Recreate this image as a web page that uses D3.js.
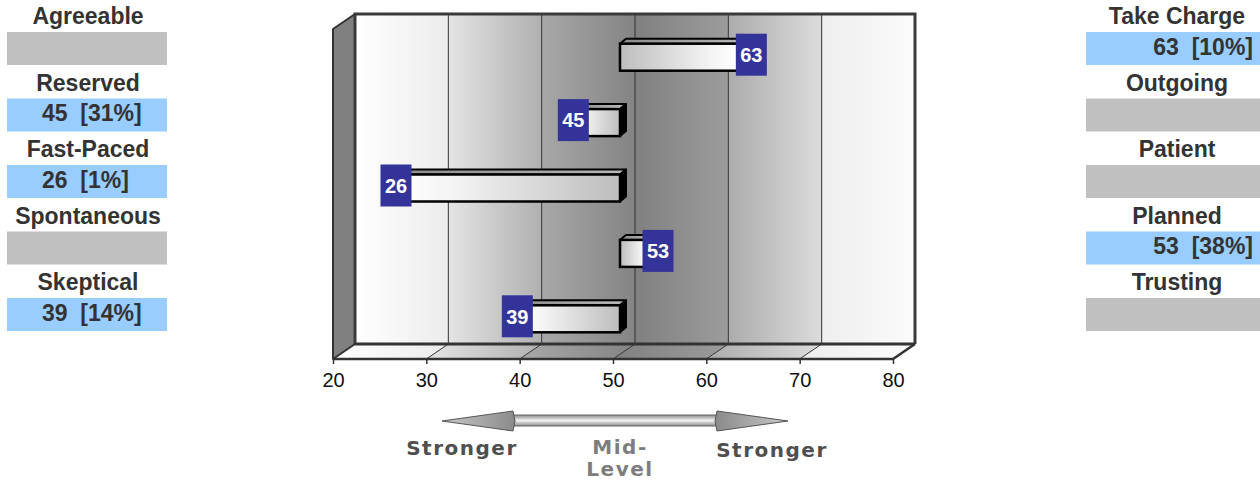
<!DOCTYPE html>
<html>
<head>
<meta charset="utf-8">
<script src="https://cdn.jsdelivr.net/npm/d3@7"></script>
<style>
  html, body { margin: 0; padding: 0; background: #fff; }
  svg { display: block; }
</style>
</head>
<body>
<div id="chart"></div>
<script>
// ---- data ----
const leftLabels = ['Agreeable', 'Reserved', 'Fast-Paced', 'Spontaneous', 'Skeptical']
const rightLabels = ['Take Charge', 'Outgoing', 'Patient', 'Planned', 'Trusting']
const scores = [63, 45, 26, 53, 39]
const leftValues = [null, '45  [31%]', '26  [1%]', null, '39  [14%]']
const rightValues = ['63  [10%]', null, null, '53  [38%]', null]
const xTicks = [20, 30, 40, 50, 60, 70, 80]
const midPoint = 50

const W = 1260, H = 484
const font = '"Liberation Sans", Arial, sans-serif'

const svg = d3.select('#chart').append('svg')
  .attr('width', W).attr('height', H)
  .attr('viewBox', `0 0 ${W} ${H}`)

const defs = svg.append('defs')

// ---- scales (front plane of the 3D box) ----
const x = d3.scaleLinear().domain([20, 80]).range([333, 893])
const y = d3.scaleBand().domain(leftLabels).range([28, 355])
const plotTop = 29, plotBottom = 359
const dep = { dx: 22, dy: -15 }      // depth of the box
const bz = { dx: 7, dy: -3.5 }       // bar position inside the depth
const bd = { dx: 6, dy: -5 }         // bar thickness
const barH = 27

// per-band wall shading (left colour, right colour)
const bandShade = [
  ['#ffffff', '#ececec'],
  ['#e4e4e4', '#b0b0b0'],
  ['#a8a8a8', '#848484'],
  ['#808080', '#9c9c9c'],
  ['#acacac', '#dcdcdc'],
  ['#eeeeee', '#fbfbfb']
]
bandShade.forEach((c, i) => {
  const g = defs.append('linearGradient').attr('id', `band${i}`)
    .attr('x1', 0).attr('x2', 1).attr('y1', 0).attr('y2', 0)
  g.append('stop').attr('offset', 0).attr('stop-color', c[0])
  g.append('stop').attr('offset', 1).attr('stop-color', c[1])
})

function lin(id, stops, vertical) {
  const g = defs.append('linearGradient').attr('id', id)
    .attr('x1', 0).attr('y1', 0)
    .attr('x2', vertical ? 0 : 1).attr('y2', vertical ? 1 : 0)
  stops.forEach(s => g.append('stop').attr('offset', s[0]).attr('stop-color', s[1]))
}
lin('barRight', [[0, '#bdbdbd'], [0.75, '#f4f4f4'], [1, '#ffffff']])
lin('barLeft', [[0, '#ffffff'], [0.25, '#f4f4f4'], [1, '#bdbdbd']])
lin('barTop', [[0, '#8c8c8c'], [1, '#b8b8b8']])
lin('shaft', [[0, '#8a8a8a'], [0.5, '#f2f2f2'], [1, '#8a8a8a']], true)
lin('headL', [[0, '#c8c8c8'], [1, '#8a8a8a']])
lin('headR', [[0, '#8a8a8a'], [1, '#c8c8c8']])

const plot = svg.append('g')

// ---- back wall bands ----
const bands = d3.range(xTicks.length - 1)
plot.append('g').selectAll('rect').data(bands).join('rect')
  .attr('x', i => x(xTicks[i]) + dep.dx)
  .attr('y', plotTop + dep.dy)
  .attr('width', i => x(xTicks[i + 1]) - x(xTicks[i]))
  .attr('height', plotBottom - plotTop)
  .attr('fill', i => `url(#band${i})`)

// ---- floor bands ----
plot.append('g').selectAll('path').data(bands).join('path')
  .attr('d', i => {
    const a = x(xTicks[i]), b = x(xTicks[i + 1])
    return `M${a},${plotBottom}L${a + dep.dx},${plotBottom + dep.dy}L${b + dep.dx},${plotBottom + dep.dy}L${b},${plotBottom}Z`
  })
  .attr('fill', i => `url(#band${i})`)

// ---- gridlines on wall and floor ----
const inner = xTicks.slice(1, -1)
plot.append('g').selectAll('line').data(inner).join('line')
  .attr('x1', d => x(d) + dep.dx).attr('x2', d => x(d) + dep.dx)
  .attr('y1', plotTop + dep.dy).attr('y2', plotBottom + dep.dy)
  .attr('stroke', '#333').attr('stroke-width', 1)
plot.append('g').selectAll('line').data(inner).join('line')
  .attr('x1', d => x(d)).attr('x2', d => x(d) + dep.dx)
  .attr('y1', plotBottom).attr('y2', plotBottom + dep.dy)
  .attr('stroke', '#333').attr('stroke-width', 1)

// ---- left side wall ----
const x0 = x(xTicks[0])
plot.append('path')
  .attr('d', `M${x0},${plotTop}L${x0 + dep.dx},${plotTop + dep.dy}L${x0 + dep.dx},${plotBottom + dep.dy}L${x0},${plotBottom}Z`)
  .attr('fill', '#808080').attr('stroke', '#333').attr('stroke-width', 2)
  .attr('stroke-linejoin', 'round')

// ---- box outlines ----
const xN = x(xTicks[xTicks.length - 1])
plot.append('path')
  .attr('d', `M${x0 + dep.dx},${plotBottom + dep.dy}L${x0 + dep.dx},${plotTop + dep.dy}L${xN + dep.dx},${plotTop + dep.dy}L${xN + dep.dx},${plotBottom + dep.dy}`)
  .attr('fill', 'none').attr('stroke', '#3a3a3a').attr('stroke-width', 3)
plot.append('path')
  .attr('d', `M${x0 + dep.dx},${plotBottom + dep.dy}L${xN + dep.dx},${plotBottom + dep.dy}`)
  .attr('fill', 'none').attr('stroke', '#333').attr('stroke-width', 3)
plot.append('path')
  .attr('d', `M${x0},${plotBottom}L${xN},${plotBottom}L${xN + dep.dx},${plotBottom + dep.dy}`)
  .attr('fill', 'none').attr('stroke', '#333').attr('stroke-width', 2.5)

// ---- x axis ----
const axis = svg.append('g')
  .attr('transform', `translate(0,${plotBottom})`)
  .call(d3.axisBottom(x).tickValues(xTicks).tickSize(5).tickPadding(9).tickFormat(d3.format('d')))
axis.select('.domain').remove()
axis.selectAll('.tick line').attr('stroke', '#333').attr('stroke-width', 1.5)
axis.selectAll('.tick text')
  .attr('fill', '#111').attr('font-size', '20px').attr('font-family', font)

// ---- bars ----
const bars = plot.append('g').selectAll('g').data(scores).join('g')
bars.each(function (v, i) {
  const g = d3.select(this)
  const a = x(Math.min(v, midPoint)) + bz.dx
  const b = x(Math.max(v, midPoint)) + bz.dx
  const top = y(leftLabels[i]) + (y.bandwidth() - barH) / 2 + bz.dy
  // top face
  g.append('path')
    .attr('d', `M${a},${top}L${a + bd.dx},${top + bd.dy}L${b + bd.dx},${top + bd.dy}L${b},${top}Z`)
    .attr('fill', 'url(#barTop)').attr('stroke', '#000').attr('stroke-width', 2)
    .attr('stroke-linejoin', 'round')
  // end face
  g.append('path')
    .attr('d', `M${b},${top}L${b + bd.dx},${top + bd.dy}L${b + bd.dx},${top + barH + bd.dy}L${b},${top + barH}Z`)
    .attr('fill', '#000').attr('stroke', '#000').attr('stroke-width', 2)
    .attr('stroke-linejoin', 'round')
  // front face
  g.append('rect')
    .attr('x', a).attr('y', top).attr('width', b - a).attr('height', barH)
    .attr('fill', v >= midPoint ? 'url(#barRight)' : 'url(#barLeft)')
    .attr('stroke', '#000').attr('stroke-width', 2.5)
})

// ---- value labels ----
const lw = 31, lh = 42
const labels = plot.append('g').selectAll('g').data(scores).join('g')
  .attr('transform', (v, i) => {
    const cx = x(v) + bz.dx + (v >= midPoint ? 10 : 0)
    const cy = y(leftLabels[i]) + y.bandwidth() / 2 + bz.dy - 2.5
    return `translate(${cx},${cy})`
  })
labels.append('rect')
  .attr('x', -lw / 2).attr('y', -lh / 2).attr('width', lw).attr('height', lh)
  .attr('fill', '#333399')
labels.append('text')
  .attr('text-anchor', 'middle').attr('dy', '0.36em')
  .attr('fill', '#fff').attr('font-size', '20px').attr('font-weight', 'bold')
  .attr('font-family', font)
  .text(v => v)

// ---- side panels ----
const rows = d3.scaleBand().domain(d3.range(5)).range([0, 332.5])
function panel(names, values, boxX, boxW, textX, anchorVal, valX) {
  const g = svg.append('g')
  const r = g.selectAll('g').data(names).join('g')
    .attr('transform', (d, i) => `translate(0,${rows(i)})`)
  r.append('text')
    .attr('x', textX).attr('y', 24)
    .attr('text-anchor', 'middle')
    .attr('fill', '#333').attr('font-size', '23px').attr('font-weight', 'bold')
    .attr('font-family', font)
    .text(d => d)
  r.append('rect')
    .attr('x', boxX).attr('y', 32).attr('width', boxW).attr('height', 33)
    .attr('fill', (d, i) => values[i] ? '#99ccff' : '#c0c0c0')
  r.append('text')
    .attr('x', valX).attr('y', 54.5)
    .attr('text-anchor', anchorVal)
    .attr('fill', '#333').attr('font-size', '23px').attr('font-weight', 'bold')
    .attr('font-family', font)
    .style('white-space', 'pre')
    .text((d, i) => values[i] || '')
}
panel(leftLabels, leftValues, 7, 160, 88, 'start', 42)
panel(rightLabels, rightValues, 1086, 180, 1177, 'end', 1253)

// ---- strength arrow ----
const ac = x(midPoint) + 2, ay = 421
const arrow = svg.append('g')
arrow.append('rect')
  .attr('x', ac - 102).attr('y', ay - 6).attr('width', 204).attr('height', 11)
  .attr('fill', 'url(#shaft)').attr('stroke', '#666').attr('stroke-width', 1)
arrow.append('path')
  .attr('d', `M${ac - 173},${ay}L${ac - 102},${ay - 10}L${ac - 100},${ay}L${ac - 102},${ay + 10}Z`)
  .attr('fill', 'url(#headL)').attr('stroke', '#555').attr('stroke-width', 1)
arrow.append('path')
  .attr('d', `M${ac + 173},${ay}L${ac + 102},${ay - 10}L${ac + 100},${ay}L${ac + 102},${ay + 10}Z`)
  .attr('fill', 'url(#headR)').attr('stroke', '#555').attr('stroke-width', 1)

const capFont = '"DejaVu Sans", Verdana, sans-serif'
const captions = [
  { t: 'Stronger', cx: ac - 153, y: 455, c: '#4f4f4f' },
  { t: 'Mid-', cx: ac + 5, y: 454, c: '#7d7d7d' },
  { t: 'Level', cx: ac + 5, y: 476, c: '#7d7d7d' },
  { t: 'Stronger', cx: ac + 157, y: 457, c: '#4f4f4f' }
]
svg.append('g').selectAll('text').data(captions).join('text')
  .attr('x', d => d.cx).attr('y', d => d.y)
  .attr('text-anchor', 'middle')
  .attr('fill', d => d.c).attr('font-size', '20px').attr('font-weight', 'bold')
  .attr('letter-spacing', '1.5px')
  .attr('font-family', capFont)
  .text(d => d.t)
</script>
</body>
</html>
